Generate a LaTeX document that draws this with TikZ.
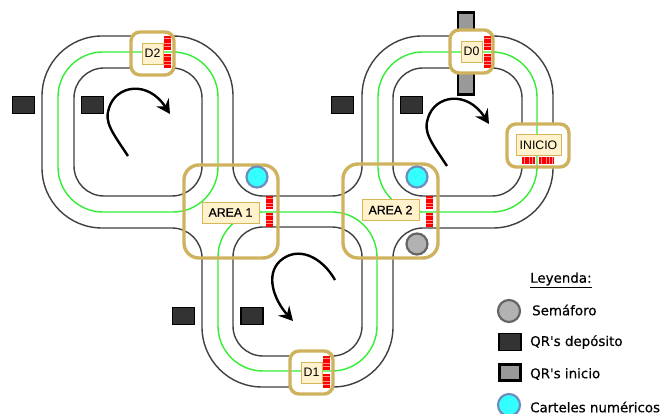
\documentclass[tikz,border=0pt]{standalone}
\usepackage{fontspec}
\usetikzlibrary{arrows.meta}
\setmainfont{Liberation Sans}
\newfontfamily\legendfont[FakeBold=0.5]{DejaVu Sans}
\newfontfamily\areafont[FakeBold=0.6]{Liberation Sans}
\definecolor{gold}{HTML}{CFB25E}
\definecolor{labfill}{HTML}{FFF2CC}
\definecolor{labline}{HTML}{D6B656}
\definecolor{trackgreen}{HTML}{33EE33}
\definecolor{signblue}{HTML}{33FFFF}
\definecolor{signline}{HTML}{6C8EBF}
\begin{document}
\begin{tikzpicture}[x=1pt,y=-1pt,font=\fontsize{12.3}{14}\selectfont,
  track/.style={draw=black!75,line width=1.4pt},
  guide/.style={draw=trackgreen,line width=1.4pt},
  zone/.style={draw=gold,line width=3.4pt,rounded corners=9pt},
  lab/.style={draw=labline,fill=labfill,line width=0.8pt,inner sep=0pt,minimum height=21pt},
  strip/.style={preaction={draw=red!45,solid,line width=7pt},draw=red,line width=7pt,dash pattern=on 1.9pt off 0.8pt},
  qrdep/.style={draw=black,fill=black!80,line width=1.8pt,inner sep=0pt,minimum width=22pt,minimum height=17pt},
  qrini/.style={draw=black,fill=black!40,line width=2.6pt,inner sep=0pt},
  lamp/.style={circle,draw=black!60,fill=black!30,line width=2.2pt,inner sep=0pt,minimum size=21pt},
  sign/.style={circle,draw=signline,fill=signblue,line width=2.2pt,inner sep=0pt,minimum size=21pt},
  turn/.style={-{Stealth[length=14pt,width=15pt,inset=5pt]},black,line width=2.4pt},
  leg/.style={anchor=west,inner sep=0pt,font=\fontsize{13.4}{14}\selectfont\legendfont}]

\useasboundingbox (0,0) rectangle (665,414);

% Start QR behind D0
\node[qrini,minimum width=16pt,minimum height=82pt] (qr0) at (466,53.5) {};
% Black track lines
\draw[track,rounded corners=30pt] (74,68) rectangle (202,196);
\draw[track,rounded corners=30pt] (393,68) rectangle (522,196);
\draw[track,rounded corners=30pt] (233,227) rectangle (362,356);
\draw[track,rounded corners=60pt] (138,36) -- (233,36) -- (233,130);
\draw[track,rounded corners=30pt] (233,130) -- (233,196) -- (297,196);
\draw[track,rounded corners=30pt] (297,196) -- (362,196) -- (362,130);
\draw[track,rounded corners=60pt] (362,130) -- (362,36) -- (553,36) -- (553,228) -- (460,228);
\draw[track,rounded corners=30pt] (460,228) -- (393,228) -- (393,300);
\draw[track,rounded corners=60pt] (393,300) -- (393,387) -- (202,387) -- (202,300);
\draw[track,rounded corners=30pt] (202,300) -- (202,228) -- (135,228);
\draw[track,rounded corners=60pt] (135,228) -- (42,228) -- (42,36) -- (138,36);
% White inside the small boxes
\fill[white] (131,32) rectangle (174,75);
\fill[white] (450,30) rectangle (493,73);
\fill[white] (290,351) rectangle (333,394);
\fill[white] (507,124) rectangle (569,167);
% Green guide lines
\draw[guide,rounded corners=45pt] (58,52) rectangle (218,212);
\draw[guide,rounded corners=45pt] (378,52) rectangle (537,212);
\draw[guide,rounded corners=45pt] (218,212) rectangle (377,371);
% Red strips
\draw[strip] (167,36) -- (167,50); \draw[strip] (167,54) -- (167,68);
\draw[strip] (487,36) -- (487,50); \draw[strip] (487,54) -- (487,68);
\draw[strip] (326.5,356) -- (326.5,370); \draw[strip] (326.5,374) -- (326.5,388);
\draw[strip] (269.5,196) -- (269.5,209); \draw[strip] (269.5,213) -- (269.5,227);
\draw[strip] (429,196) -- (429,209); \draw[strip] (429,213) -- (429,227);
\draw[strip] (522,160.5) -- (535,160.5); \draw[strip] (539,160.5) -- (553,160.5);
% Labels
\node[lab,minimum width=21pt] (d2) at (152.5,53.5) {D2};
\node[lab,minimum width=21pt] (d0) at (471.5,51.5) {D0};
\node[lab,minimum width=21pt] (d1) at (311.5,372.5) {D1};
\node[lab,minimum width=45pt] (inicio) at (538.5,145) {INICIO};
\node[lab,minimum width=57pt,font=\fontsize{12.3}{14}\selectfont\areafont] (area1) at (230.5,212.5) {AREA 1};
\node[lab,minimum width=57pt,font=\fontsize{12.3}{14}\selectfont\areafont] (area2) at (390.5,210) {AREA 2};
% Gold frames
\draw[zone] (131,32) rectangle (174,75);
\draw[zone] (450,30) rectangle (493,73);
\draw[zone] (290,351) rectangle (333,394);
\draw[zone] (507,124) rectangle (569,167);
\draw[zone,rounded corners=15pt] (184,165) rectangle (278,258);
\draw[zone,rounded corners=15pt] (343,164) rectangle (438,258);
% Signs and semaphore
\node[sign] (s1) at (257,177) {};
\node[sign] (s2) at (417,177) {};
\node[lamp] (sem) at (417,244) {};
% Deposit QRs
\node[qrdep] (q1) at (23.5,105) {};
\node[qrdep] (q2) at (92.5,105) {};
\node[qrdep] (q3) at (342.5,105) {};
\node[qrdep] (q4) at (411.5,105) {};
\node[qrdep] (q5) at (183.5,316) {};
\node[qrdep] (q6) at (252,316) {};
% Direction arrows
\draw[turn] (128,156) .. controls (112,132) and (104,122) .. (109,108) .. controls (116,85) and (148,80) .. (170,114);
\draw[turn] (447,166) .. controls (431,142) and (423,132) .. (428,118) .. controls (435,95) and (467,90) .. (489,124);
\draw[turn] (335,280) .. controls (322,257) and (298,245) .. (280,261) .. controls (265,275) and (274,300) .. (293,321);
% Legend
\node[leg] (legtitle) at (530,280) {\underline{Leyenda:}};
\node[lamp,minimum size=22pt] (leglamp) at (509,311) {};
\node[leg] at (532,310) {Semáforo};
\node[qrdep,minimum width=22pt,minimum height=17pt] (legdep) at (510,342) {};
\node[leg] at (530,342) {QR's depósito};
\node[qrini,minimum width=21pt,minimum height=16pt] (legini) at (510,372.5) {};
\node[leg] at (530,374) {QR's inicio};
\node[sign,minimum size=22pt] (legsign) at (509,405) {};
\node[leg] at (530,407) {Carteles numéricos};
\end{tikzpicture}
\end{document}
